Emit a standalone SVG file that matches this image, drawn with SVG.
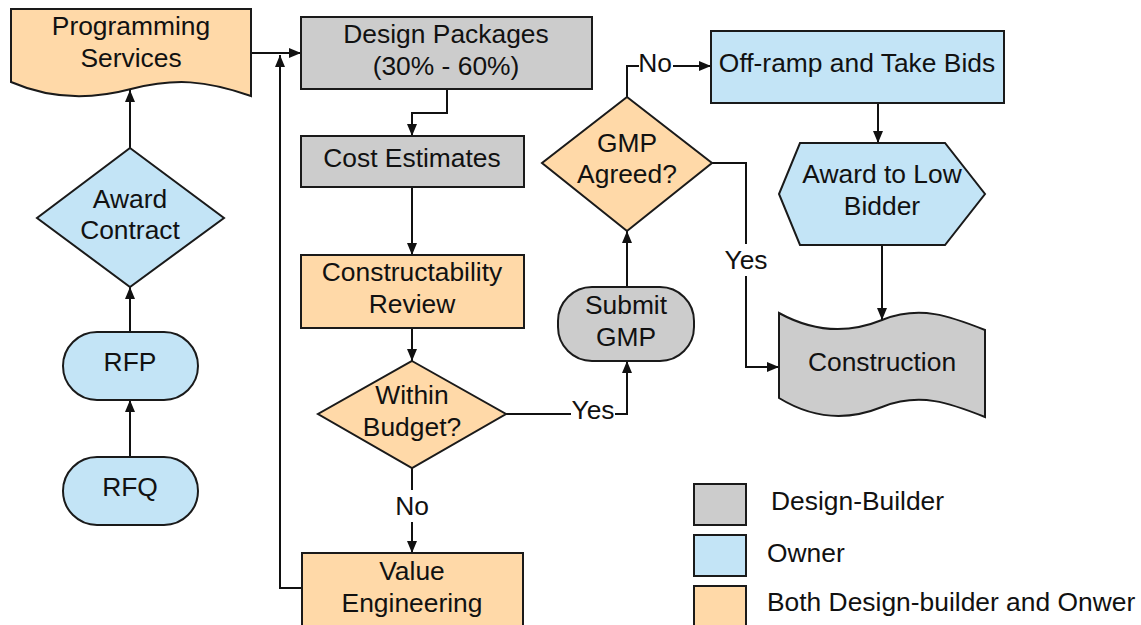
<svg xmlns="http://www.w3.org/2000/svg" width="1141" height="625" viewBox="0 0 1141 625">
  <style>
    .db { fill: #cccccc; stroke: #1a1a1a; stroke-width: 2; }
    .ow { fill: #c3e4f6; stroke: #1a1a1a; stroke-width: 2; }
    .bo { fill: #ffd9a8; stroke: #1a1a1a; stroke-width: 2; }
    text { font-family: "Liberation Sans", Arial, sans-serif; font-size: 26.4px; fill: #111; }
    .c { text-anchor: middle; }
    .wire { fill: none; stroke: #111; stroke-width: 2; }
    .lbl { fill: #ffffff; stroke: none; }
  </style>
  <defs>
    <marker id="arrow" viewBox="0 0 12 10" refX="12" refY="5" markerWidth="12" markerHeight="10" markerUnits="userSpaceOnUse" orient="auto">
      <path d="M0,0 L12,5 L0,10 Z" fill="#111"/>
    </marker>
  </defs>
  <rect width="1141" height="625" fill="#ffffff"/>

  <!-- connectors -->
  <g id="connectors">
    <path class="wire" d="M130,148 V90" marker-end="url(#arrow)"/>
    <path class="wire" d="M130,332 V287" marker-end="url(#arrow)"/>
    <path class="wire" d="M130,457 V400" marker-end="url(#arrow)"/>
    <path class="wire" d="M251,53 H301" marker-end="url(#arrow)"/>
    <path class="wire" d="M302,588 H280 V55" marker-end="url(#arrow)"/>
    <path class="wire" d="M447,89 V113 H412 V136" marker-end="url(#arrow)"/>
    <path class="wire" d="M412,187 V255" marker-end="url(#arrow)"/>
    <path class="wire" d="M412,328 V361" marker-end="url(#arrow)"/>
    <path class="wire" d="M506,414 H627 V361" marker-end="url(#arrow)"/>
    <path class="wire" d="M412,468 V553" marker-end="url(#arrow)"/>
    <path class="wire" d="M627,287 V231" marker-end="url(#arrow)"/>
    <path class="wire" d="M627,97 V66 H711" marker-end="url(#arrow)"/>
    <path class="wire" d="M712,163 H746 V367 H779" marker-end="url(#arrow)"/>
    <path class="wire" d="M878,103 V143" marker-end="url(#arrow)"/>
    <path class="wire" d="M882,245 V320" marker-end="url(#arrow)"/>

    <!-- connector labels -->
    <rect class="lbl" x="571" y="398" width="44" height="28"/>
    <text class="c" x="593" y="419">Yes</text>
    <rect class="lbl" x="395" y="490" width="34" height="32"/>
    <text class="c" x="412" y="515">No</text>
    <rect class="lbl" x="639" y="50" width="34" height="30"/>
    <text class="c" x="655" y="72">No</text>
    <rect class="lbl" x="724" y="244" width="44" height="32"/>
    <text class="c" x="746" y="269">Yes</text>
  </g>

  <!-- nodes -->
  <g id="programming-services">
    <path class="bo" d="M11,9 H251 V96 C205,80 175,78 131,89 C90,100 50,99 11,82 Z"/>
    <text class="c" x="131" y="35">Programming</text>
    <text class="c" x="131" y="67">Services</text>
  </g>
  <g id="award-contract">
    <polygon class="ow" points="130,148 224,218 130,287 37,218"/>
    <text class="c" x="130" y="208">Award</text>
    <text class="c" x="130" y="239">Contract</text>
  </g>
  <g id="rfp">
    <rect class="ow" x="63" y="332" width="135" height="68" rx="34" ry="34"/>
    <text class="c" x="130" y="371">RFP</text>
  </g>
  <g id="rfq">
    <rect class="ow" x="63" y="457" width="135" height="68" rx="34" ry="34"/>
    <text class="c" x="130" y="496">RFQ</text>
  </g>
  <g id="design-packages">
    <rect class="db" x="301" y="17" width="291" height="72"/>
    <text class="c" x="446" y="43">Design Packages</text>
    <text class="c" x="446" y="75">(30% - 60%)</text>
  </g>
  <g id="cost-estimates">
    <rect class="db" x="301" y="136" width="223" height="51"/>
    <text class="c" x="412" y="167">Cost Estimates</text>
  </g>
  <g id="constructability-review">
    <rect class="bo" x="301" y="255" width="223" height="73"/>
    <text class="c" x="412" y="281">Constructability</text>
    <text class="c" x="412" y="313">Review</text>
  </g>
  <g id="within-budget">
    <polygon class="bo" points="412,361 506,414 412,468 318,414"/>
    <text class="c" x="412" y="404">Within</text>
    <text class="c" x="412" y="436">Budget?</text>
  </g>
  <g id="value-engineering">
    <rect class="bo" x="302" y="553" width="221" height="90"/>
    <text class="c" x="412" y="580">Value</text>
    <text class="c" x="412" y="612">Engineering</text>
  </g>
  <g id="submit-gmp">
    <rect class="db" x="558" y="287" width="136" height="74" rx="34" ry="34"/>
    <text class="c" x="626" y="314">Submit</text>
    <text class="c" x="626" y="346">GMP</text>
  </g>
  <g id="gmp-agreed">
    <polygon class="bo" points="627,97 712,163 627,231 542,163"/>
    <text class="c" x="627" y="152">GMP</text>
    <text class="c" x="627" y="183">Agreed?</text>
  </g>
  <g id="off-ramp">
    <rect class="ow" x="711" y="31" width="293" height="72"/>
    <text class="c" x="857" y="72">Off-ramp and Take Bids</text>
  </g>
  <g id="award-low-bidder">
    <polygon class="ow" points="800,143 945,143 985,194 945,245 800,245 779,194"/>
    <text class="c" x="882" y="183">Award to Low</text>
    <text class="c" x="882" y="215">Bidder</text>
  </g>
  <g id="construction">
    <path class="db" d="M779,313 C810,330 845,335 882,320 C920,305 950,316 985,330 V417 C950,403 920,392 882,407 C845,422 810,417 779,398 Z"/>
    <text class="c" x="882" y="371">Construction</text>
  </g>

  <!-- legend -->
  <g id="legend">
    <rect class="db" x="694" y="484" width="52" height="41"/>
    <text x="771" y="510">Design-Builder</text>
    <rect class="ow" x="694" y="535" width="52" height="41"/>
    <text x="767" y="562">Owner</text>
    <rect class="bo" x="694" y="586" width="52" height="50"/>
    <text x="767" y="611">Both Design-builder and Onwer</text>
  </g>
</svg>
